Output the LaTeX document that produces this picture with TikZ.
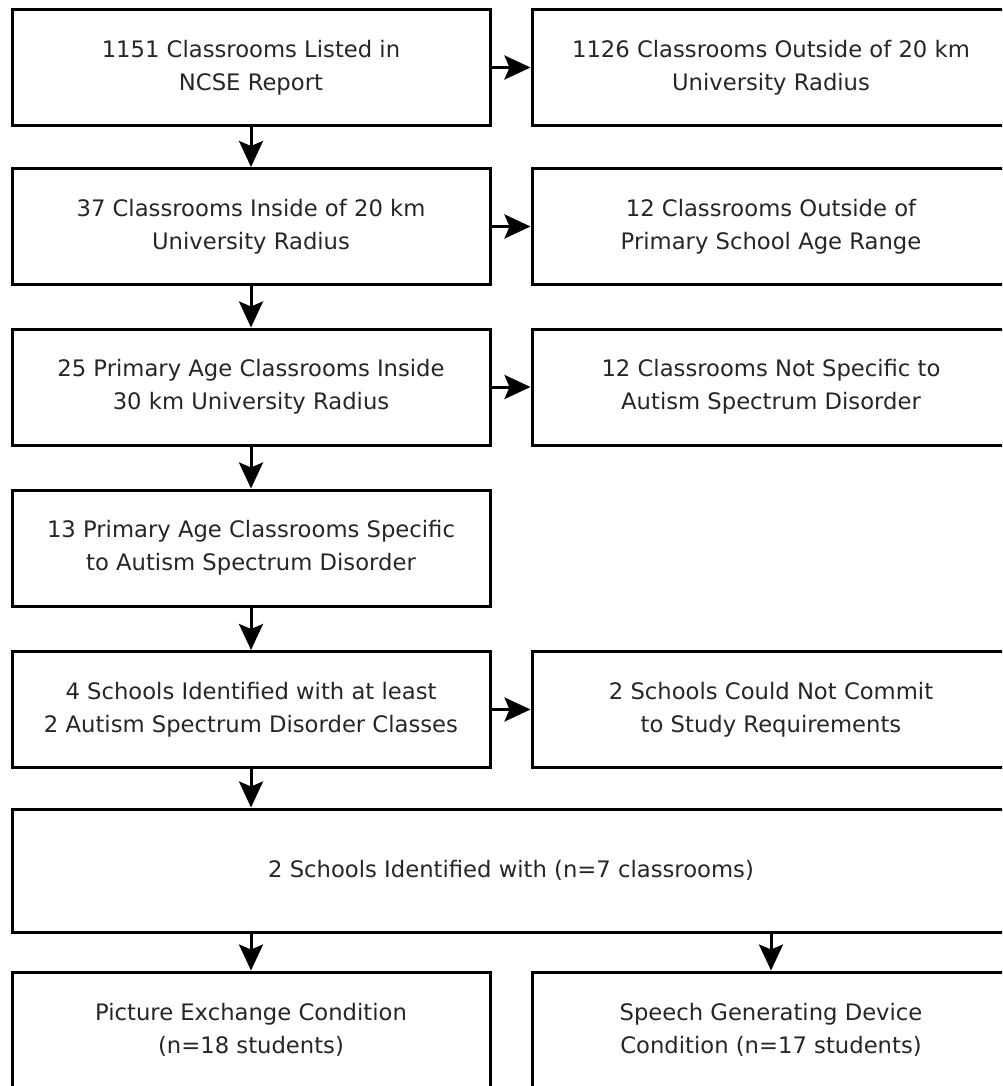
\documentclass[tikz,border=0pt]{standalone}
\usepackage{fontspec}
\setmainfont{DejaVu Sans}
\usetikzlibrary{arrows.meta, positioning}

\begin{document}
\begin{tikzpicture}[x=1pt, y=-1pt,
  box/.style={draw, line width=3pt, minimum width=478pt, minimum height=116pt, inner sep=0pt,
    align=center, text=black!85, font=\fontsize{22.7}{33}\selectfont},
  arr/.style={line width=3pt, -{Stealth[length=26pt, width=24pt, inset=5pt]}}]
  \clip (0,0) rectangle (1002,1086);

  % left column
  \node[box] (listed) at (251,67.5) {1151 Classrooms Listed in\\NCSE Report};
  \node[box] (inside) at (251,226.5) {37 Classrooms Inside of 20 km\\University Radius};
  \node[box] (primary) at (251,387) {25 Primary Age Classrooms Inside\\30 km University Radius};
  \node[box] (asd) at (251,548) {13 Primary Age Classrooms Specific\\to Autism Spectrum Disorder};
  \node[box] (schools) at (251,709.5) {4 Schools Identified with at least\\2 Autism Spectrum Disorder Classes};

  % excluded
  \node[box] (outside) at (771,67.5) {1126 Classrooms Outside of 20 km\\University Radius};
  \node[box] (agerange) at (771,226.5) {12 Classrooms Outside of\\Primary School Age Range};
  \node[box] (notasd) at (771,387) {12 Classrooms Not Specific to\\Autism Spectrum Disorder};
  \node[box] (nocommit) at (771,709.5) {2 Schools Could Not Commit\\to Study Requirements};

  % final schools and conditions
  \node[box, minimum width=998pt, minimum height=123pt] (final) at (511,870.5) {2 Schools Identified with (n=7 classrooms)};
  \node[box] (pecs) at (251,1030) {Picture Exchange Condition\\(n=18 students)};
  \node[box] (sgd) at (771,1030) {Speech Generating Device\\Condition (n=17 students)};

  \draw[arr] (listed) -- (inside);
  \draw[arr] (inside) -- (primary);
  \draw[arr] (primary) -- (asd);
  \draw[arr] (asd) -- (schools);
  \draw[arr] (schools.south) -- (schools.south |- final.north);
  \draw[arr] (listed) -- (outside);
  \draw[arr] (inside) -- (agerange);
  \draw[arr] (primary) -- (notasd);
  \draw[arr] (schools) -- (nocommit);
  \draw[arr] (pecs.north |- final.south) -- (pecs.north);
  \draw[arr] (sgd.north |- final.south) -- (sgd.north);
\end{tikzpicture}
\end{document}
